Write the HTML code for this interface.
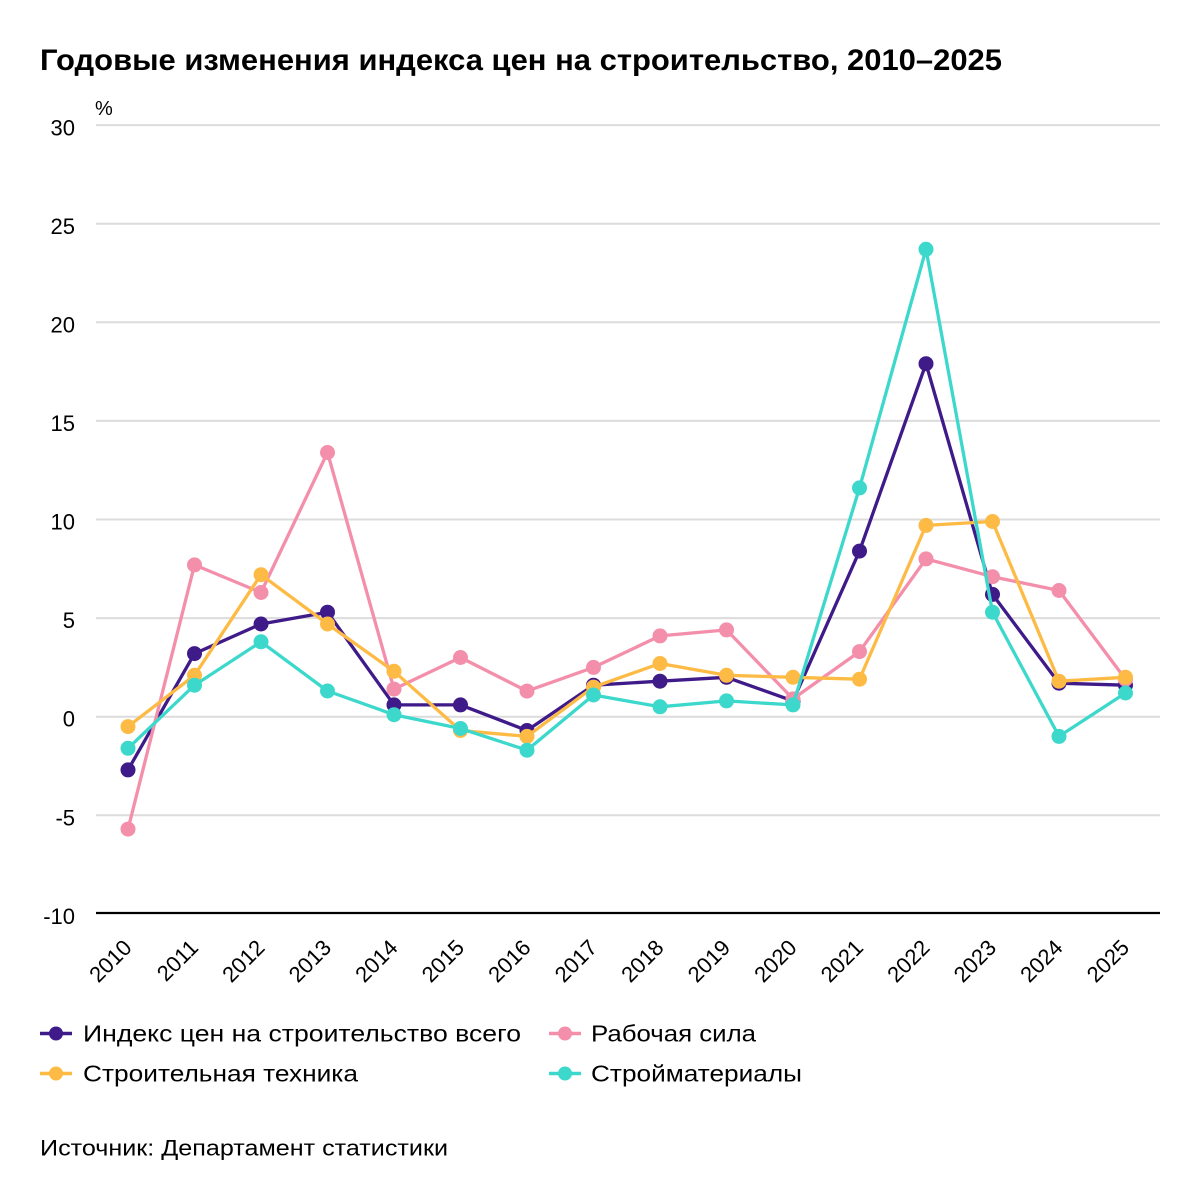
<!DOCTYPE html>
<html><head><meta charset="utf-8"><style>
html,body{margin:0;padding:0;background:#fff;}
svg{display:block;font-family:"Liberation Sans","Noto Sans CJK JP",sans-serif;}
</style></head><body>
<svg width="1200" height="1200" viewBox="0 0 1200 1200" xmlns="http://www.w3.org/2000/svg">
<rect width="1200" height="1200" fill="#fff"/>
<text x="40" y="70" font-size="30" font-weight="bold" fill="#000" textLength="962" lengthAdjust="spacingAndGlyphs">Годовые изменения индекса цен на строительство, 2010–2025</text>
<text x="95" y="115" font-size="20" fill="#000">%</text>
<g stroke="#dcdcdc" stroke-width="2">
<line x1="96" x2="1160" y1="125.1" y2="125.1"/>
<line x1="96" x2="1160" y1="223.7" y2="223.7"/>
<line x1="96" x2="1160" y1="322.3" y2="322.3"/>
<line x1="96" x2="1160" y1="420.9" y2="420.9"/>
<line x1="96" x2="1160" y1="519.5" y2="519.5"/>
<line x1="96" x2="1160" y1="618.1" y2="618.1"/>
<line x1="96" x2="1160" y1="716.7" y2="716.7"/>
<line x1="96" x2="1160" y1="815.3" y2="815.3"/>
</g>
<line x1="96" x2="1160" y1="913" y2="913" stroke="#000" stroke-width="2.2"/>
<g font-size="22" fill="#000" text-anchor="end">
<text x="75" y="135.5">30</text>
<text x="75" y="234">25</text>
<text x="75" y="332.5">20</text>
<text x="75" y="431">15</text>
<text x="75" y="529.5">10</text>
<text x="75" y="628">5</text>
<text x="75" y="726.7">0</text>
<text x="75" y="825.3">-5</text>
<text x="75" y="924">-10</text>
</g>
<g font-size="22" fill="#000" text-anchor="end">
<text transform="translate(133,949) rotate(-45)">2010</text>
<text transform="translate(199.5,949) rotate(-45)">2011</text>
<text transform="translate(266,949) rotate(-45)">2012</text>
<text transform="translate(332.5,949) rotate(-45)">2013</text>
<text transform="translate(399,949) rotate(-45)">2014</text>
<text transform="translate(465.5,949) rotate(-45)">2015</text>
<text transform="translate(532,949) rotate(-45)">2016</text>
<text transform="translate(598.5,949) rotate(-45)">2017</text>
<text transform="translate(665,949) rotate(-45)">2018</text>
<text transform="translate(731.5,949) rotate(-45)">2019</text>
<text transform="translate(798,949) rotate(-45)">2020</text>
<text transform="translate(864.5,949) rotate(-45)">2021</text>
<text transform="translate(931,949) rotate(-45)">2022</text>
<text transform="translate(997.5,949) rotate(-45)">2023</text>
<text transform="translate(1064,949) rotate(-45)">2024</text>
<text transform="translate(1130.5,949) rotate(-45)">2025</text>
</g>

<!-- Purple -->
<g fill="#3f1a89">
<polyline fill="none" stroke="#3f1a89" stroke-width="3.3" stroke-linejoin="round" points="128,769.9 194.5,653.6 261,624.0 327.5,612.2 394,704.9 460.5,704.9 527,730.5 593.5,685.2 660,681.2 726.5,677.3 793,700.9 859.5,551.1 926,363.7 992.5,594.4 1059,683.2 1125.5,685.2"/>
<circle cx="128" cy="769.9" r="7.5"/><circle cx="194.5" cy="653.6" r="7.5"/><circle cx="261" cy="624.0" r="7.5"/><circle cx="327.5" cy="612.2" r="7.5"/><circle cx="394" cy="704.9" r="7.5"/><circle cx="460.5" cy="704.9" r="7.5"/><circle cx="527" cy="730.5" r="7.5"/><circle cx="593.5" cy="685.2" r="7.5"/><circle cx="660" cy="681.2" r="7.5"/><circle cx="726.5" cy="677.3" r="7.5"/><circle cx="793" cy="700.9" r="7.5"/><circle cx="859.5" cy="551.1" r="7.5"/><circle cx="926" cy="363.7" r="7.5"/><circle cx="992.5" cy="594.4" r="7.5"/><circle cx="1059" cy="683.2" r="7.5"/><circle cx="1125.5" cy="685.2" r="7.5"/>
</g>
<!-- Pink -->
<g fill="#f48fab">
<polyline fill="none" stroke="#f48fab" stroke-width="3.3" stroke-linejoin="round" points="128,829.1 194.5,564.9 261,592.5 327.5,452.5 394,689.1 460.5,657.5 527,691.1 593.5,667.4 660,635.9 726.5,629.9 793,698.9 859.5,651.6 926,558.9 992.5,576.7 1059,590.5 1125.5,679.2"/>
<circle cx="128" cy="829.1" r="7.5"/><circle cx="194.5" cy="564.9" r="7.5"/><circle cx="261" cy="592.5" r="7.5"/><circle cx="327.5" cy="452.5" r="7.5"/><circle cx="394" cy="689.1" r="7.5"/><circle cx="460.5" cy="657.5" r="7.5"/><circle cx="527" cy="691.1" r="7.5"/><circle cx="593.5" cy="667.4" r="7.5"/><circle cx="660" cy="635.9" r="7.5"/><circle cx="726.5" cy="629.9" r="7.5"/><circle cx="793" cy="698.9" r="7.5"/><circle cx="859.5" cy="651.6" r="7.5"/><circle cx="926" cy="558.9" r="7.5"/><circle cx="992.5" cy="576.7" r="7.5"/><circle cx="1059" cy="590.5" r="7.5"/><circle cx="1125.5" cy="679.2" r="7.5"/>
</g>
<!-- Yellow -->
<g fill="#fdbb45">
<polyline fill="none" stroke="#fdbb45" stroke-width="3.3" stroke-linejoin="round" points="128,726.6 194.5,675.3 261,574.7 327.5,624.0 394,671.3 460.5,730.5 527,736.4 593.5,687.1 660,663.5 726.5,675.3 793,677.3 859.5,679.2 926,525.4 992.5,521.5 1059,681.2 1125.5,677.3"/>
<circle cx="128" cy="726.6" r="7.5"/><circle cx="194.5" cy="675.3" r="7.5"/><circle cx="261" cy="574.7" r="7.5"/><circle cx="327.5" cy="624.0" r="7.5"/><circle cx="394" cy="671.3" r="7.5"/><circle cx="460.5" cy="730.5" r="7.5"/><circle cx="527" cy="736.4" r="7.5"/><circle cx="593.5" cy="687.1" r="7.5"/><circle cx="660" cy="663.5" r="7.5"/><circle cx="726.5" cy="675.3" r="7.5"/><circle cx="793" cy="677.3" r="7.5"/><circle cx="859.5" cy="679.2" r="7.5"/><circle cx="926" cy="525.4" r="7.5"/><circle cx="992.5" cy="521.5" r="7.5"/><circle cx="1059" cy="681.2" r="7.5"/><circle cx="1125.5" cy="677.3" r="7.5"/>
</g>
<!-- Teal -->
<g fill="#3dd8cc">
<polyline fill="none" stroke="#3dd8cc" stroke-width="3.3" stroke-linejoin="round" points="128,748.3 194.5,685.2 261,641.8 327.5,691.0 394,714.7 460.5,728.5 527,750.2 593.5,695.0 660,706.8 726.5,700.9 793,704.9 859.5,487.9 926,249.3 992.5,612.2 1059,736.4 1125.5,693.0"/>
<circle cx="128" cy="748.3" r="7.5"/><circle cx="194.5" cy="685.2" r="7.5"/><circle cx="261" cy="641.8" r="7.5"/><circle cx="327.5" cy="691.0" r="7.5"/><circle cx="394" cy="714.7" r="7.5"/><circle cx="460.5" cy="728.5" r="7.5"/><circle cx="527" cy="750.2" r="7.5"/><circle cx="593.5" cy="695.0" r="7.5"/><circle cx="660" cy="706.8" r="7.5"/><circle cx="726.5" cy="700.9" r="7.5"/><circle cx="793" cy="704.9" r="7.5"/><circle cx="859.5" cy="487.9" r="7.5"/><circle cx="926" cy="249.3" r="7.5"/><circle cx="992.5" cy="612.2" r="7.5"/><circle cx="1059" cy="736.4" r="7.5"/><circle cx="1125.5" cy="693.0" r="7.5"/>
</g>

<!-- Legend -->
<g>
<line x1="40" x2="72" y1="1033.5" y2="1033.5" stroke="#3f1a89" stroke-width="3.5"/>
<circle cx="56" cy="1033.5" r="7" fill="#3f1a89"/>
<text x="83" y="1041.5" font-size="23" fill="#000" textLength="438" lengthAdjust="spacingAndGlyphs">Индекс цен на строительство всего</text>
<line x1="549" x2="581" y1="1033.5" y2="1033.5" stroke="#f48fab" stroke-width="3.5"/>
<circle cx="565" cy="1033.5" r="7" fill="#f48fab"/>
<text x="591" y="1041.5" font-size="23" fill="#000" textLength="165" lengthAdjust="spacingAndGlyphs">Рабочая сила</text>
<line x1="40" x2="72" y1="1073.5" y2="1073.5" stroke="#fdbb45" stroke-width="3.5"/>
<circle cx="56" cy="1073.5" r="7" fill="#fdbb45"/>
<text x="83" y="1081.5" font-size="23" fill="#000" textLength="275" lengthAdjust="spacingAndGlyphs">Строительная техника</text>
<line x1="549" x2="581" y1="1073.5" y2="1073.5" stroke="#3dd8cc" stroke-width="3.5"/>
<circle cx="565" cy="1073.5" r="7" fill="#3dd8cc"/>
<text x="591" y="1081.5" font-size="23" fill="#000" textLength="211" lengthAdjust="spacingAndGlyphs">Стройматериалы</text>
</g>
<text x="40" y="1155.5" font-size="22" fill="#000" textLength="408" lengthAdjust="spacingAndGlyphs">Источник: Департамент статистики</text>
</svg>
</body></html>
